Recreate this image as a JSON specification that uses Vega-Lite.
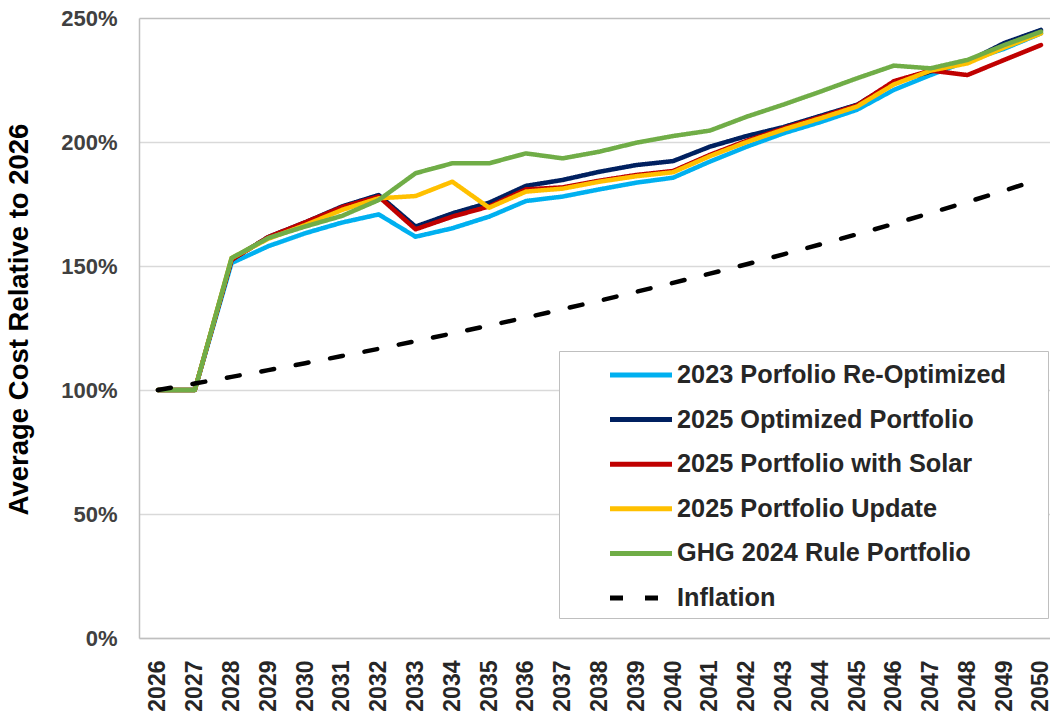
{
  "$schema": "https://vega.github.io/schema/vega-lite/v6.json",
  "width": 911,
  "height": 620,
  "autosize": {"type": "none"},
  "padding": {"left": 139, "top": 18, "right": 0, "bottom": 79},
  "background": "white",
  "config": {"view": {"stroke": null}, "font": "Liberation Sans"},
  "data": {"values": [
    {"series":"2023 Porfolio Re-Optimized","year":2026,"value":1.0},
    {"series":"2023 Porfolio Re-Optimized","year":2027,"value":1.0},
    {"series":"2023 Porfolio Re-Optimized","year":2028,"value":1.512},
    {"series":"2023 Porfolio Re-Optimized","year":2029,"value":1.58},
    {"series":"2023 Porfolio Re-Optimized","year":2030,"value":1.632},
    {"series":"2023 Porfolio Re-Optimized","year":2031,"value":1.675},
    {"series":"2023 Porfolio Re-Optimized","year":2032,"value":1.708},
    {"series":"2023 Porfolio Re-Optimized","year":2033,"value":1.618},
    {"series":"2023 Porfolio Re-Optimized","year":2034,"value":1.652},
    {"series":"2023 Porfolio Re-Optimized","year":2035,"value":1.699},
    {"series":"2023 Porfolio Re-Optimized","year":2036,"value":1.762},
    {"series":"2023 Porfolio Re-Optimized","year":2037,"value":1.78},
    {"series":"2023 Porfolio Re-Optimized","year":2038,"value":1.809},
    {"series":"2023 Porfolio Re-Optimized","year":2039,"value":1.836},
    {"series":"2023 Porfolio Re-Optimized","year":2040,"value":1.856},
    {"series":"2023 Porfolio Re-Optimized","year":2041,"value":1.921},
    {"series":"2023 Porfolio Re-Optimized","year":2042,"value":1.981},
    {"series":"2023 Porfolio Re-Optimized","year":2043,"value":2.035},
    {"series":"2023 Porfolio Re-Optimized","year":2044,"value":2.08},
    {"series":"2023 Porfolio Re-Optimized","year":2045,"value":2.13},
    {"series":"2023 Porfolio Re-Optimized","year":2046,"value":2.21},
    {"series":"2023 Porfolio Re-Optimized","year":2047,"value":2.27},
    {"series":"2023 Porfolio Re-Optimized","year":2048,"value":2.327},
    {"series":"2023 Porfolio Re-Optimized","year":2049,"value":2.376},
    {"series":"2023 Porfolio Re-Optimized","year":2050,"value":2.438},
    {"series":"2025 Optimized Portfolio","year":2026,"value":1.0},
    {"series":"2025 Optimized Portfolio","year":2027,"value":1.0},
    {"series":"2025 Optimized Portfolio","year":2028,"value":1.525},
    {"series":"2025 Optimized Portfolio","year":2029,"value":1.617},
    {"series":"2025 Optimized Portfolio","year":2030,"value":1.676},
    {"series":"2025 Optimized Portfolio","year":2031,"value":1.74},
    {"series":"2025 Optimized Portfolio","year":2032,"value":1.786},
    {"series":"2025 Optimized Portfolio","year":2033,"value":1.659},
    {"series":"2025 Optimized Portfolio","year":2034,"value":1.712},
    {"series":"2025 Optimized Portfolio","year":2035,"value":1.755},
    {"series":"2025 Optimized Portfolio","year":2036,"value":1.823},
    {"series":"2025 Optimized Portfolio","year":2037,"value":1.847},
    {"series":"2025 Optimized Portfolio","year":2038,"value":1.88},
    {"series":"2025 Optimized Portfolio","year":2039,"value":1.907},
    {"series":"2025 Optimized Portfolio","year":2040,"value":1.923},
    {"series":"2025 Optimized Portfolio","year":2041,"value":1.981},
    {"series":"2025 Optimized Portfolio","year":2042,"value":2.024},
    {"series":"2025 Optimized Portfolio","year":2043,"value":2.06},
    {"series":"2025 Optimized Portfolio","year":2044,"value":2.105},
    {"series":"2025 Optimized Portfolio","year":2045,"value":2.15},
    {"series":"2025 Optimized Portfolio","year":2046,"value":2.24},
    {"series":"2025 Optimized Portfolio","year":2047,"value":2.284},
    {"series":"2025 Optimized Portfolio","year":2048,"value":2.324},
    {"series":"2025 Optimized Portfolio","year":2049,"value":2.399},
    {"series":"2025 Optimized Portfolio","year":2050,"value":2.452},
    {"series":"2025 Portfolio with Solar","year":2026,"value":1.0},
    {"series":"2025 Portfolio with Solar","year":2027,"value":1.0},
    {"series":"2025 Portfolio with Solar","year":2028,"value":1.525},
    {"series":"2025 Portfolio with Solar","year":2029,"value":1.617},
    {"series":"2025 Portfolio with Solar","year":2030,"value":1.676},
    {"series":"2025 Portfolio with Solar","year":2031,"value":1.737},
    {"series":"2025 Portfolio with Solar","year":2032,"value":1.78},
    {"series":"2025 Portfolio with Solar","year":2033,"value":1.648},
    {"series":"2025 Portfolio with Solar","year":2034,"value":1.699},
    {"series":"2025 Portfolio with Solar","year":2035,"value":1.74},
    {"series":"2025 Portfolio with Solar","year":2036,"value":1.809},
    {"series":"2025 Portfolio with Solar","year":2037,"value":1.817},
    {"series":"2025 Portfolio with Solar","year":2038,"value":1.844},
    {"series":"2025 Portfolio with Solar","year":2039,"value":1.867},
    {"series":"2025 Portfolio with Solar","year":2040,"value":1.883},
    {"series":"2025 Portfolio with Solar","year":2041,"value":1.948},
    {"series":"2025 Portfolio with Solar","year":2042,"value":2.005},
    {"series":"2025 Portfolio with Solar","year":2043,"value":2.055},
    {"series":"2025 Portfolio with Solar","year":2044,"value":2.1},
    {"series":"2025 Portfolio with Solar","year":2045,"value":2.148},
    {"series":"2025 Portfolio with Solar","year":2046,"value":2.245},
    {"series":"2025 Portfolio with Solar","year":2047,"value":2.288},
    {"series":"2025 Portfolio with Solar","year":2048,"value":2.27},
    {"series":"2025 Portfolio with Solar","year":2049,"value":2.331},
    {"series":"2025 Portfolio with Solar","year":2050,"value":2.391},
    {"series":"2025 Portfolio Update","year":2026,"value":1.0},
    {"series":"2025 Portfolio Update","year":2027,"value":1.0},
    {"series":"2025 Portfolio Update","year":2028,"value":1.532},
    {"series":"2025 Portfolio Update","year":2029,"value":1.61},
    {"series":"2025 Portfolio Update","year":2030,"value":1.665},
    {"series":"2025 Portfolio Update","year":2031,"value":1.726},
    {"series":"2025 Portfolio Update","year":2032,"value":1.773},
    {"series":"2025 Portfolio Update","year":2033,"value":1.782},
    {"series":"2025 Portfolio Update","year":2034,"value":1.84},
    {"series":"2025 Portfolio Update","year":2035,"value":1.735},
    {"series":"2025 Portfolio Update","year":2036,"value":1.8},
    {"series":"2025 Portfolio Update","year":2037,"value":1.812},
    {"series":"2025 Portfolio Update","year":2038,"value":1.84},
    {"series":"2025 Portfolio Update","year":2039,"value":1.862},
    {"series":"2025 Portfolio Update","year":2040,"value":1.878},
    {"series":"2025 Portfolio Update","year":2041,"value":1.943},
    {"series":"2025 Portfolio Update","year":2042,"value":2.0},
    {"series":"2025 Portfolio Update","year":2043,"value":2.05},
    {"series":"2025 Portfolio Update","year":2044,"value":2.095},
    {"series":"2025 Portfolio Update","year":2045,"value":2.143},
    {"series":"2025 Portfolio Update","year":2046,"value":2.232},
    {"series":"2025 Portfolio Update","year":2047,"value":2.288},
    {"series":"2025 Portfolio Update","year":2048,"value":2.317},
    {"series":"2025 Portfolio Update","year":2049,"value":2.381},
    {"series":"2025 Portfolio Update","year":2050,"value":2.438},
    {"series":"GHG 2024 Rule Portfolio","year":2026,"value":1.0},
    {"series":"GHG 2024 Rule Portfolio","year":2027,"value":1.0},
    {"series":"GHG 2024 Rule Portfolio","year":2028,"value":1.532},
    {"series":"GHG 2024 Rule Portfolio","year":2029,"value":1.613},
    {"series":"GHG 2024 Rule Portfolio","year":2030,"value":1.659},
    {"series":"GHG 2024 Rule Portfolio","year":2031,"value":1.702},
    {"series":"GHG 2024 Rule Portfolio","year":2032,"value":1.766},
    {"series":"GHG 2024 Rule Portfolio","year":2033,"value":1.874},
    {"series":"GHG 2024 Rule Portfolio","year":2034,"value":1.914},
    {"series":"GHG 2024 Rule Portfolio","year":2035,"value":1.914},
    {"series":"GHG 2024 Rule Portfolio","year":2036,"value":1.954},
    {"series":"GHG 2024 Rule Portfolio","year":2037,"value":1.934},
    {"series":"GHG 2024 Rule Portfolio","year":2038,"value":1.961},
    {"series":"GHG 2024 Rule Portfolio","year":2039,"value":1.997},
    {"series":"GHG 2024 Rule Portfolio","year":2040,"value":2.024},
    {"series":"GHG 2024 Rule Portfolio","year":2041,"value":2.046},
    {"series":"GHG 2024 Rule Portfolio","year":2042,"value":2.102},
    {"series":"GHG 2024 Rule Portfolio","year":2043,"value":2.151},
    {"series":"GHG 2024 Rule Portfolio","year":2044,"value":2.203},
    {"series":"GHG 2024 Rule Portfolio","year":2045,"value":2.257},
    {"series":"GHG 2024 Rule Portfolio","year":2046,"value":2.308},
    {"series":"GHG 2024 Rule Portfolio","year":2047,"value":2.297},
    {"series":"GHG 2024 Rule Portfolio","year":2048,"value":2.331},
    {"series":"GHG 2024 Rule Portfolio","year":2049,"value":2.391},
    {"series":"GHG 2024 Rule Portfolio","year":2050,"value":2.445},
    {"series":"Inflation","year":2026,"value":1.0},
    {"series":"Inflation","year":2027,"value":1.026},
    {"series":"Inflation","year":2028,"value":1.053},
    {"series":"Inflation","year":2029,"value":1.08},
    {"series":"Inflation","year":2030,"value":1.108},
    {"series":"Inflation","year":2031,"value":1.137},
    {"series":"Inflation","year":2032,"value":1.166},
    {"series":"Inflation","year":2033,"value":1.197},
    {"series":"Inflation","year":2034,"value":1.228},
    {"series":"Inflation","year":2035,"value":1.26},
    {"series":"Inflation","year":2036,"value":1.292},
    {"series":"Inflation","year":2037,"value":1.326},
    {"series":"Inflation","year":2038,"value":1.36},
    {"series":"Inflation","year":2039,"value":1.396},
    {"series":"Inflation","year":2040,"value":1.432},
    {"series":"Inflation","year":2041,"value":1.469},
    {"series":"Inflation","year":2042,"value":1.507},
    {"series":"Inflation","year":2043,"value":1.547},
    {"series":"Inflation","year":2044,"value":1.587},
    {"series":"Inflation","year":2045,"value":1.628},
    {"series":"Inflation","year":2046,"value":1.67},
    {"series":"Inflation","year":2047,"value":1.714},
    {"series":"Inflation","year":2048,"value":1.758},
    {"series":"Inflation","year":2049,"value":1.804},
    {"series":"Inflation","year":2050,"value":1.851}
  ]},
  "mark": {"type": "line", "strokeWidth": 4.5, "strokeCap": "round", "strokeJoin": "round"},
  "encoding": {
    "x": {
      "field": "year", "type": "quantitative",
      "scale": {"domain": [2025.484, 2050.245], "nice": false, "zero": false},
      "axis": {
        "values": [2026,2027,2028,2029,2030,2031,2032,2033,2034,2035,2036,2037,2038,2039,2040,2041,2042,2043,2044,2045,2046,2047,2048,2049,2050],
        "format": "d", "labelAngle": 270, "labelAlign": "right", "labelBaseline": "middle",
        "labelFont": "Liberation Sans", "labelFontWeight": "bold", "labelFontSize": 23,
        "labelColor": "#262626", "labelPadding": 22, "ticks": false, "grid": false,
        "domainColor": "#BFBFBF", "domainWidth": 1.5, "title": null,
        "labelOverlap": false, "labelFlush": false, "labelBound": false
      }
    },
    "y": {
      "field": "value", "type": "quantitative",
      "scale": {"domain": [0, 2.5], "nice": false},
      "axis": {
        "values": [0, 0.5, 1, 1.5, 2, 2.5], "format": ".0%",
        "labelFont": "Liberation Sans", "labelFontWeight": "bold", "labelFontSize": 22,
        "labelColor": "#404040", "labelPadding": 22, "ticks": false,
        "domainColor": "#BFBFBF", "domainWidth": 1.5,
        "gridColor": {"condition": {"test": "datum.value === 2.5", "value": "#BFBFBF"}, "value": "#D9D9D9"},
        "gridWidth": 1.3,
        "title": "Average Cost Relative to 2026",
        "titleFont": "Liberation Sans", "titleFontSize": 27.5, "titleFontWeight": "bold", "titleColor": "#000000",
        "titleAngle": 270, "titleX": -120, "titleY": 301, "titleAlign": "center", "titleBaseline": "middle"
      }
    },
    "color": {
      "field": "series", "type": "nominal",
      "scale": {
        "domain": ["2023 Porfolio Re-Optimized", "2025 Optimized Portfolio", "2025 Portfolio with Solar", "2025 Portfolio Update", "GHG 2024 Rule Portfolio", "Inflation"],
        "range": ["#00B0F0", "#002060", "#C00000", "#FFC000", "#70AD47", "#000000"]
      },
      "legend": {
        "title": null, "orient": "none", "legendX": 420, "legendY": 333,
        "strokeColor": "#BFBFBF", "fillColor": "#FFFFFF", "padding": 6,
        "labelFont": "Liberation Sans", "labelFontSize": 25.3, "labelFontWeight": "bold", "labelColor": "#262626",
        "symbolType": "M-3.9,0M-1,0L3,0M26.2,0", "symbolSize": 961, "symbolStrokeWidth": 5,
        "symbolOffset": 42.5, "labelOffset": 33.5, "rowPadding": 12.6, "labelLimit": 500
      }
    },
    "strokeDash": {
      "field": "series", "type": "nominal",
      "scale": {
        "domain": ["2023 Porfolio Re-Optimized", "2025 Optimized Portfolio", "2025 Portfolio with Solar", "2025 Portfolio Update", "GHG 2024 Rule Portfolio", "Inflation"],
        "range": [[1, 0], [1, 0], [1, 0], [1, 0], [1, 0], [13, 22]]
      },
      "legend": {
        "title": null, "orient": "none", "legendX": 420, "legendY": 333,
        "strokeColor": "#BFBFBF", "fillColor": "#FFFFFF", "padding": 6,
        "labelFont": "Liberation Sans", "labelFontSize": 25.3, "labelFontWeight": "bold", "labelColor": "#262626",
        "symbolType": "M-3.9,0M-1,0L3,0M26.2,0", "symbolSize": 961, "symbolStrokeWidth": 5,
        "symbolOffset": 42.5, "labelOffset": 33.5, "rowPadding": 12.6, "labelLimit": 500
      }
    }
  }
}
